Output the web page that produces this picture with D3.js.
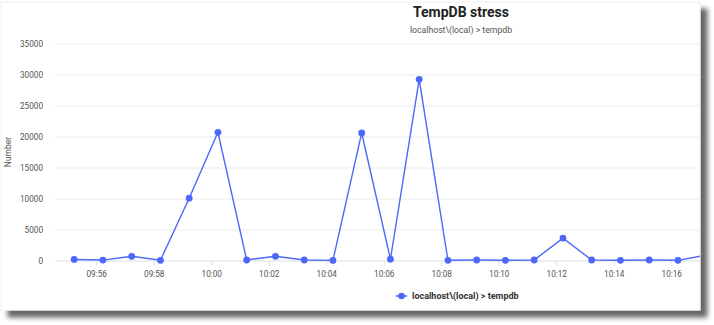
<!DOCTYPE html>
<html>
<head>
<meta charset="utf-8">
<script src="https://cdn.jsdelivr.net/npm/d3@7"></script>
<style>
  html, body { margin: 0; padding: 0; background: #fff; }
  svg { display: block; font-family: Roboto, "Noto Sans", sans-serif; }
</style>
</head>
<body>
<svg id="chart" width="714" height="325"></svg>
<script>
// Samples: one reading per minute, taken 14 s past the minute
const sampleTimes = [
  "09:55:14", "09:56:14", "09:57:14", "09:58:14", "09:59:14", "10:00:14",
  "10:01:14", "10:02:14", "10:03:14", "10:04:14", "10:05:14", "10:06:14",
  "10:07:14", "10:08:14", "10:09:14", "10:10:14", "10:11:14", "10:12:14",
  "10:13:14", "10:14:14", "10:15:14", "10:16:14", "10:17:14"
];
const tempdbValues = [
  250, 150, 760, 110, 10130, 20760,
  160, 760, 160, 100, 20650, 300,
  29300, 110, 160, 110, 160, 3690,
  160, 110, 160, 110, 950
];
const yTicks = [0, 5000, 10000, 15000, 20000, 25000, 30000, 35000];
const xTickLabels = ["09:56", "09:58", "10:00", "10:02", "10:04", "10:06", "10:08", "10:10", "10:12", "10:14", "10:16"];
const seriesName = "localhost\\(local) > tempdb";
const chartTitle = "TempDB stress";
const yAxisTitle = "Number";

const parseTime = d3.timeParse("%H:%M:%S");
const parseTick = d3.timeParse("%H:%M");
const data = sampleTimes.map((t, i) => ({ t: parseTime(t), v: tempdbValues[i] }));

const svg = d3.select("#chart");
const lineColor = "#4f66fb";

// Card with drop shadow
const defs = svg.append("defs");
const f = defs.append("filter").attr("id", "shadow")
  .attr("x", "-5%").attr("y", "-5%").attr("width", "115%").attr("height", "120%");
f.append("feDropShadow").attr("dx", 7).attr("dy", 7).attr("stdDeviation", 2.6)
  .attr("flood-color", "#000").attr("flood-opacity", 0.6);
defs.append("clipPath").attr("id", "cardClip")
  .append("rect").attr("x", 1).attr("y", 2).attr("width", 699).attr("height", 308);

svg.append("rect").attr("x", 1).attr("y", 2).attr("width", 699).attr("height", 308)
  .attr("fill", "#fff").attr("stroke", "#f2f2f2").attr("stroke-width", 1)
  .attr("filter", "url(#shadow)");

const card = svg.append("g").attr("clip-path", "url(#cardClip)");

// Scales
const x = d3.scaleTime()
  .domain([parseTime("09:54:34"), parseTime("10:17:00")])
  .range([55, 700]);
const y = d3.scaleLinear().domain([0, 35000]).range([261, 44]);

// Horizontal grid
card.append("g").selectAll("line").data(yTicks.filter(d => d > 0)).join("line")
  .attr("x1", 55).attr("x2", 712)
  .attr("y1", d => y(d)).attr("y2", d => y(d))
  .attr("stroke", "#ececec").attr("stroke-width", 1);

// Baseline
card.append("line").attr("x1", 55).attr("x2", 712)
  .attr("y1", y(0)).attr("y2", y(0))
  .attr("stroke", "#dde0ea").attr("stroke-width", 1.2);

// Y tick labels
svg.append("g").selectAll("text").data(yTicks).join("text")
  .attr("x", 43).attr("y", d => y(d) + 3)
  .attr("text-anchor", "end").attr("font-size", 8.2).attr("fill", "#555")
  .text(d => d);

// X axis ticks and labels
const xTicks = xTickLabels.map(s => parseTick(s));
const xAxis = d3.axisBottom(x).tickValues(xTicks).tickFormat(d3.timeFormat("%H:%M"))
  .tickSize(5).tickPadding(5);
const gx = card.append("g").attr("transform", `translate(0,${y(0)})`).call(xAxis);
gx.select(".domain").remove();
gx.selectAll(".tick line").attr("stroke", "#e0e0e6");
gx.selectAll(".tick text").attr("font-size", 8.2).attr("fill", "#555")
  .attr("font-family", "Roboto, sans-serif");

// Y axis title
svg.append("text")
  .attr("transform", `translate(11,152) rotate(-90)`)
  .attr("text-anchor", "middle").attr("font-size", 8.5).attr("fill", "#555")
  .text(yAxisTitle);

// Title and subtitle
svg.append("text").attr("x", 461).attr("y", 17)
  .attr("text-anchor", "middle").attr("font-size", 14).attr("font-weight", "bold")
  .attr("fill", "#222").text(chartTitle);
svg.append("text").attr("x", 461).attr("y", 33)
  .attr("text-anchor", "middle").attr("font-size", 8.7).attr("fill", "#555")
  .text(seriesName);

// Series line and points
const line = d3.line().x(d => x(d.t)).y(d => y(d.v));
card.append("path").datum(data)
  .attr("fill", "none").attr("stroke", lineColor).attr("stroke-width", 1.4)
  .attr("d", line);
card.append("g").selectAll("circle").data(data).join("circle")
  .attr("cx", d => x(d.t)).attr("cy", d => y(d.v)).attr("r", 3.4)
  .attr("fill", lineColor);

// Legend
const lg = svg.append("g").attr("transform", "translate(396,296)");
lg.append("line").attr("x1", 0).attr("x2", 11).attr("y1", 0).attr("y2", 0)
  .attr("stroke", lineColor).attr("stroke-width", 1.6);
lg.append("circle").attr("cx", 5.5).attr("cy", 0).attr("r", 3.2).attr("fill", lineColor);
lg.append("text").attr("x", 16).attr("y", 3.2)
  .attr("font-size", 9).attr("font-weight", "bold").attr("fill", "#333")
  .text(seriesName);
</script>
</body>
</html>
